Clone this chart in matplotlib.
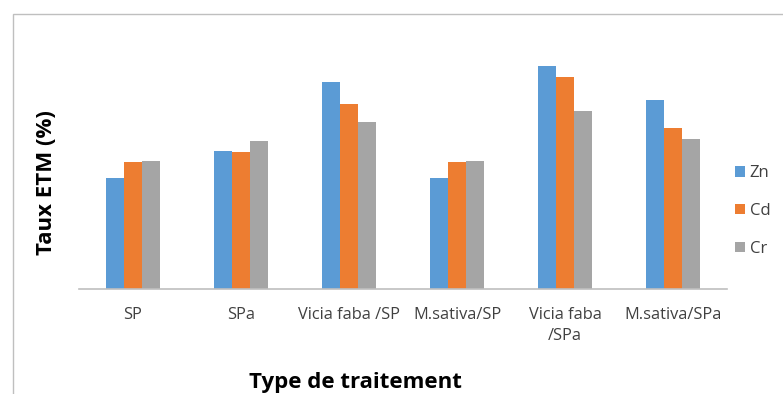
import matplotlib
matplotlib.use('Agg')
import matplotlib.pyplot as plt
import numpy as np
from matplotlib.patches import Rectangle

plt.rcParams['font.family'] = ['Open Sans', 'DejaVu Sans']

traitements = ['SP', 'SPa', 'Vicia faba /SP', 'M.sativa/SP', 'Vicia faba\n/SPa', 'M.sativa/SPa']
zn = [110.7, 138.0, 207.3, 110.7, 223.0, 189.0]
cd = [127.0, 136.7, 184.7, 127.0, 212.3, 161.0]
cr = [128.3, 147.7, 167.3, 128.3, 178.3, 149.7]

couleurs = {'Zn': '#5B9BD5', 'Cd': '#ED7D31', 'Cr': '#A5A5A5'}

fig = plt.figure(figsize=(7.83, 3.94), dpi=100)
ax = fig.add_axes([0.1009, 0.2665, 0.8276, 0.6345])

x = np.arange(len(traitements))
w = 0.167
ax.bar(x - w, zn, w, color=couleurs['Zn'], label='Zn')
ax.bar(x, cd, w, color=couleurs['Cd'], label='Cd')
ax.bar(x + w, cr, w, color=couleurs['Cr'], label='Cr')

ax.set_xlim(-0.5, len(traitements) - 0.5)
ax.set_ylim(0, 250)
ax.set_yticks([])
ax.set_xticks(x)
ax.set_xticklabels(traitements, fontsize=11.8, color='#404040', linespacing=1.45)
ax.tick_params(axis='x', length=0, pad=13)
for s in ['top', 'right', 'left']:
    ax.spines[s].set_visible(False)
ax.spines['bottom'].set_color('#BFBFBF')
ax.spines['bottom'].set_linewidth(1.2)

ax.set_ylabel('Taux ETM (%)', fontsize=16, fontweight='bold')
ax.yaxis.set_label_coords(-0.0345, 0.426)
ax.set_xlabel('Type de traitement', fontsize=16, fontweight='bold')
ax.xaxis.set_label_coords(0.426, -0.331)

leg = ax.legend(loc='center left', bbox_to_anchor=(0.994, 0.312), frameon=False,
                fontsize=12, handlelength=0.6, handleheight=0.6,
                labelspacing=1.3, handletextpad=0.3, borderaxespad=0.3)
for t in leg.get_texts():
    t.set_color('#404040')

# cadre du graphique
fig.patches.append(Rectangle((13 / 783, -0.1), 1.0, 1 - 14 / 394 + 0.1,
                             transform=fig.transFigure, fill=False,
                             edgecolor='#BFBFBF', linewidth=1.0))

fig.savefig('out.png', dpi=100)
